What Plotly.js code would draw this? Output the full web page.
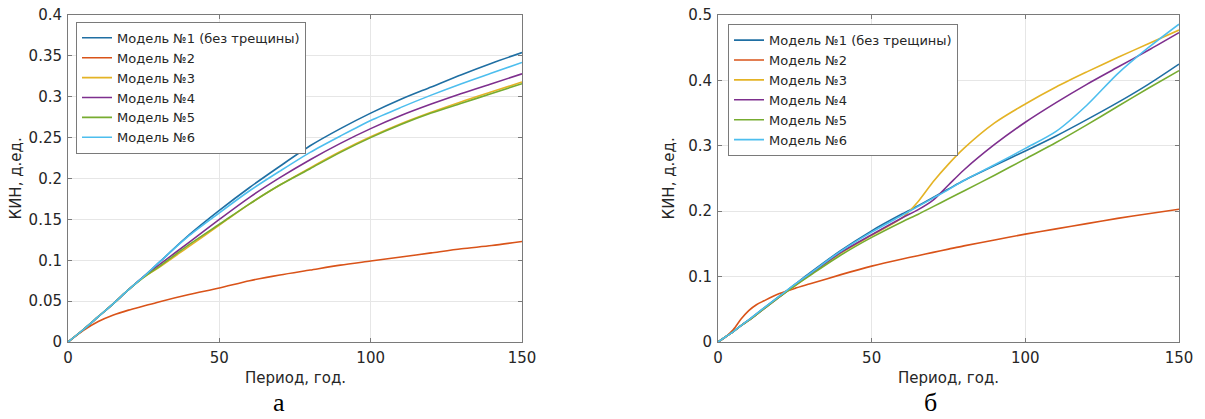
<!DOCTYPE html>
<html>
<head>
<meta charset="utf-8">
<script src="https://cdn.plot.ly/plotly-3.0.1.min.js"></script>
<style>
  html, body { margin: 0; padding: 0; background: #ffffff; }
  #chart { width: 1205px; height: 419px; }
</style>
</head>
<body>
<div id="chart"></div>
<script>
// ---------- Data ----------
var seriesNames = ["Модель №1 (без трещины)", "Модель №2", "Модель №3", "Модель №4", "Модель №5", "Модель №6"];

// Panel а
var xA = [0, 5, 10, 15, 20, 25, 30, 40, 50, 60, 70, 80, 90, 100, 110, 120, 130, 140, 150];
var a_m1 = [0, 0.015, 0.031, 0.047, 0.064, 0.080, 0.097, 0.131, 0.161, 0.189, 0.215, 0.240, 0.261, 0.280, 0.297, 0.312, 0.327, 0.341, 0.354];
var a_m2 = [0, 0.014, 0.025, 0.033, 0.039, 0.044, 0.049, 0.058, 0.066, 0.075, 0.082, 0.088, 0.094, 0.099, 0.104, 0.109, 0.114, 0.118, 0.123];
var a_m3 = [0, 0.015, 0.031, 0.047, 0.064, 0.079, 0.091, 0.117, 0.143, 0.169, 0.192, 0.213, 0.233, 0.251, 0.267, 0.281, 0.294, 0.306, 0.318];
var a_m4 = [0, 0.015, 0.031, 0.047, 0.064, 0.080, 0.094, 0.122, 0.150, 0.177, 0.201, 0.223, 0.243, 0.261, 0.277, 0.291, 0.304, 0.316, 0.328];
var a_m5 = [0, 0.015, 0.031, 0.047, 0.064, 0.079, 0.092, 0.119, 0.144, 0.169, 0.192, 0.212, 0.232, 0.250, 0.266, 0.280, 0.292, 0.304, 0.316];
var a_m6 = [0, 0.015, 0.031, 0.047, 0.064, 0.080, 0.097, 0.130, 0.158, 0.185, 0.209, 0.232, 0.252, 0.271, 0.287, 0.302, 0.316, 0.329, 0.342];

// Panel б
var xB = [0, 2.5, 5, 7.5, 10, 12.5, 15, 20, 25, 30, 40, 50, 60, 65, 70, 75, 80, 90, 100, 110, 120, 130, 140, 150];
var b_m1 = [0, 0.008, 0.016, 0.025, 0.034, 0.043, 0.052, 0.070, 0.088, 0.106, 0.140, 0.170, 0.196, 0.208, 0.221, 0.234, 0.247, 0.270, 0.292, 0.315, 0.340, 0.366, 0.394, 0.425];
var b_m2 = [0, 0.008, 0.019, 0.035, 0.048, 0.057, 0.063, 0.074, 0.082, 0.089, 0.103, 0.116, 0.127, 0.132, 0.137, 0.142, 0.147, 0.156, 0.165, 0.173, 0.181, 0.189, 0.196, 0.203];
var b_m3 = [0, 0.008, 0.016, 0.025, 0.033, 0.042, 0.051, 0.069, 0.086, 0.103, 0.136, 0.163, 0.190, 0.214, 0.245, 0.272, 0.296, 0.335, 0.364, 0.390, 0.413, 0.435, 0.456, 0.477];
var b_m4 = [0, 0.008, 0.016, 0.025, 0.033, 0.042, 0.051, 0.069, 0.087, 0.104, 0.137, 0.164, 0.190, 0.202, 0.217, 0.240, 0.263, 0.302, 0.336, 0.366, 0.394, 0.420, 0.446, 0.473];
var b_m5 = [0, 0.008, 0.016, 0.025, 0.033, 0.042, 0.051, 0.069, 0.086, 0.102, 0.133, 0.160, 0.184, 0.195, 0.207, 0.219, 0.231, 0.255, 0.280, 0.305, 0.332, 0.360, 0.388, 0.415];
var b_m6 = [0, 0.008, 0.016, 0.025, 0.034, 0.043, 0.052, 0.070, 0.088, 0.105, 0.139, 0.168, 0.194, 0.207, 0.220, 0.233, 0.247, 0.271, 0.296, 0.322, 0.362, 0.410, 0.450, 0.486];

var yTitle = "КИН, д.ед.";
var xTitle = "Период, год.";
var panelLabels = ["а", "б"];

// ---------- Styling ----------
var colors = ["#1f6fa3", "#d95319", "#e4b325", "#7e2f8e", "#77ac30", "#4dbeee"];
var FONT = "DejaVu Sans, Arial, sans-serif";
var AXC = "#7a7a7a";

var aSeries = [a_m1, a_m2, a_m3, a_m4, a_m5, a_m6];
var bSeries = [b_m1, b_m2, b_m3, b_m4, b_m5, b_m6];

var traces = [];
aSeries.forEach(function (ys, i) {
  traces.push({
    x: xA, y: ys, type: "scatter", mode: "lines", name: seriesNames[i],
    xaxis: "x", yaxis: "y", legend: "legend",
    line: { color: colors[i], width: 1.6, shape: "spline", smoothing: 0.8 }
  });
});
bSeries.forEach(function (ys, i) {
  traces.push({
    x: xB, y: ys, type: "scatter", mode: "lines", name: seriesNames[i],
    xaxis: "x2", yaxis: "y2", legend: "legend2",
    line: { color: colors[i], width: 1.6, shape: "spline", smoothing: 0.8 }
  });
});

function xaxisCfg(domain, anchor) {
  return {
    domain: domain, anchor: anchor, range: [0, 150], tickvals: [0, 50, 100, 150],
    showgrid: true, gridcolor: "#e6e6e6", gridwidth: 1, zeroline: false,
    showline: true, linecolor: AXC, linewidth: 1, mirror: "ticks",
    ticks: "inside", ticklen: 4, tickcolor: AXC,
    tickfont: { family: FONT, size: 15, color: "#262626" },
    ticklabelstandoff: 2
  };
}
function yaxisCfg(range, dtick, anchor) {
  return {
    anchor: anchor, range: range, tick0: 0, dtick: dtick,
    showgrid: true, gridcolor: "#e6e6e6", gridwidth: 1, zeroline: false,
    showline: true, linecolor: AXC, linewidth: 1, mirror: "ticks",
    ticks: "inside", ticklen: 4, tickcolor: AXC,
    tickfont: { family: FONT, size: 15, color: "#262626" },
    ticklabelstandoff: 2
  };
}

var W = 1205;
var legendBase = {
  xanchor: "left", yanchor: "top", bgcolor: "#ffffff", bordercolor: AXC, borderwidth: 1,
  font: { family: FONT, size: 13, color: "#262626" }, itemwidth: 30, traceorder: "normal",
  tracegroupgap: 0
};

var layout = {
  width: 1205, height: 419,
  margin: { l: 0, r: 0, t: 15, b: 77 },
  paper_bgcolor: "#ffffff", plot_bgcolor: "#ffffff",
  showlegend: true,
  xaxis: xaxisCfg([68 / W, 522 / W], "y"),
  yaxis: yaxisCfg([0, 0.4], 0.05, "x"),
  xaxis2: xaxisCfg([718 / W, 1179 / W], "y2"),
  yaxis2: yaxisCfg([0, 0.5], 0.1, "x2"),
  legend: Object.assign({}, legendBase, { x: 76 / W, y: 0.979 }),
  legend2: Object.assign({}, legendBase, { x: 728 / W, y: 0.972 }),
  annotations: [
    { text: xTitle, xref: "paper", yref: "paper", x: 295 / W, y: -0.11, xanchor: "center", yanchor: "middle",
      showarrow: false, font: { family: FONT, size: 15, color: "#262626" } },
    { text: xTitle, xref: "paper", yref: "paper", x: 948 / W, y: -0.11, xanchor: "center", yanchor: "middle",
      showarrow: false, font: { family: FONT, size: 15, color: "#262626" } },
    { text: yTitle, xref: "paper", yref: "paper", x: 15 / W, y: 0.5, xanchor: "center", yanchor: "middle",
      textangle: -90, showarrow: false, font: { family: FONT, size: 15, color: "#262626" } },
    { text: yTitle, xref: "paper", yref: "paper", x: 668 / W, y: 0.5, xanchor: "center", yanchor: "middle",
      textangle: -90, showarrow: false, font: { family: FONT, size: 15, color: "#262626" } },
    { text: panelLabels[0], xref: "paper", yref: "paper", x: 279 / W, y: -0.232, xanchor: "center", yanchor: "bottom",
      showarrow: false, borderpad: 0, font: { family: "Liberation Serif, Times New Roman, serif", size: 26, color: "#000000" } },
    { text: panelLabels[1], xref: "paper", yref: "paper", x: 930 / W, y: -0.232, xanchor: "center", yanchor: "bottom",
      showarrow: false, borderpad: 0, font: { family: "Liberation Serif, Times New Roman, serif", size: 26, color: "#000000" } }
  ]
};

Plotly.newPlot("chart", traces, layout, { displayModeBar: false, responsive: false, staticPlot: true });
</script>
</body>
</html>
